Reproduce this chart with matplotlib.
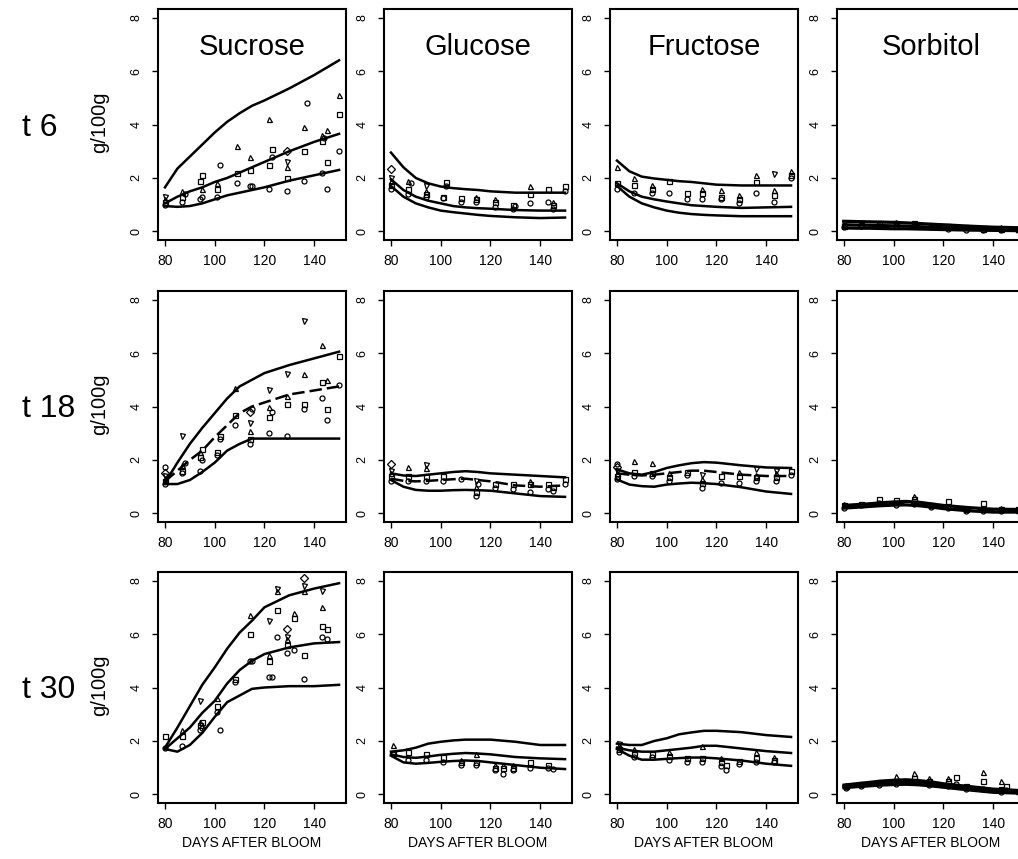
import matplotlib
matplotlib.use("Agg")
import matplotlib.pyplot as plt

plt.rcParams['font.family'] = ['Liberation Sans', 'DejaVu Sans']

sugars = ["Sucrose", "Glucose", "Fructose", "Sorbitol"]
temps = ["t 6", "t 18", "t 30"]
x_ticks = [80, 100, 120, 140]
y_ticks = [0, 2, 4, 6, 8]

curve_days = [80, 85, 90, 95, 100, 105, 110, 115, 120, 130, 140, 150]

# ---- t 6 ----
suc6_upper = [1.65, 2.35, 2.8, 3.25, 3.7, 4.1, 4.42, 4.7, 4.9, 5.35, 5.85, 6.4]
suc6_mid = [1.05, 1.3, 1.5, 1.65, 1.85, 2.0, 2.2, 2.4, 2.6, 3.0, 3.35, 3.65]
suc6_lower = [0.95, 0.92, 0.95, 1.05, 1.2, 1.35, 1.45, 1.55, 1.65, 1.9, 2.1, 2.3]
glu6_upper = [2.95, 2.4, 2.0, 1.8, 1.68, 1.62, 1.58, 1.55, 1.5, 1.45, 1.45, 1.45]
glu6_mid = [1.95, 1.55, 1.3, 1.15, 1.05, 0.95, 0.9, 0.87, 0.85, 0.8, 0.78, 0.78]
glu6_lower = [1.7, 1.3, 1.05, 0.9, 0.78, 0.72, 0.67, 0.62, 0.58, 0.53, 0.5, 0.52]
fru6_upper = [2.65, 2.25, 2.05, 1.98, 1.93, 1.88, 1.85, 1.8, 1.75, 1.72, 1.72, 1.72]
fru6_mid = [1.8, 1.5, 1.3, 1.2, 1.12, 1.05, 0.98, 0.95, 0.92, 0.88, 0.9, 0.92]
fru6_lower = [1.7, 1.3, 1.05, 0.9, 0.78, 0.7, 0.65, 0.62, 0.6, 0.57, 0.57, 0.57]
sor6_upper = [0.38, 0.37, 0.36, 0.35, 0.34, 0.32, 0.3, 0.27, 0.25, 0.2, 0.16, 0.14]
sor6_mid = [0.25, 0.24, 0.23, 0.22, 0.21, 0.2, 0.18, 0.16, 0.14, 0.11, 0.09, 0.08]
sor6_lower = [0.13, 0.12, 0.12, 0.11, 0.1, 0.1, 0.09, 0.08, 0.07, 0.05, 0.04, 0.03]

# ---- t 18 ----
suc18_upper = [1.15, 1.9, 2.6, 3.2, 3.75, 4.3, 4.75, 5.0, 5.25, 5.55, 5.8, 6.05]
suc18_mid = [1.2, 1.6, 2.0, 2.35, 2.85, 3.3, 3.75, 4.0, 4.15, 4.45, 4.6, 4.75]
suc18_lower = [1.1, 1.1, 1.25, 1.55, 1.9, 2.35, 2.6, 2.8, 2.8, 2.8, 2.8, 2.8]
glu18_upper = [1.5, 1.42, 1.4, 1.45, 1.5, 1.55, 1.58, 1.55, 1.5, 1.45, 1.4, 1.35]
glu18_mid = [1.3, 1.22, 1.2, 1.22, 1.25, 1.28, 1.3, 1.25, 1.2, 1.05, 1.0, 1.05]
glu18_lower = [1.25, 1.0, 0.88, 0.85, 0.85, 0.87, 0.88, 0.87, 0.85, 0.75, 0.65, 0.62]
fru18_upper = [1.65, 1.5, 1.45, 1.55, 1.7, 1.8, 1.88, 1.92, 1.9, 1.8, 1.72, 1.7]
fru18_mid = [1.5, 1.45, 1.42, 1.45, 1.5, 1.55, 1.6, 1.6, 1.55, 1.45, 1.4, 1.4]
fru18_lower = [1.27, 1.08, 1.02, 1.0, 1.08, 1.12, 1.15, 1.13, 1.1, 0.98, 0.82, 0.73]
sor18_upper = [0.3, 0.33, 0.36, 0.4, 0.43, 0.45, 0.42, 0.36, 0.3, 0.22, 0.16, 0.15]
sor18_mid = [0.25, 0.28, 0.31, 0.34, 0.37, 0.38, 0.35, 0.3, 0.24, 0.16, 0.1, 0.1]
sor18_lower = [0.2, 0.23, 0.26, 0.29, 0.31, 0.32, 0.29, 0.24, 0.18, 0.1, 0.05, 0.05]

# ---- t 30 ----
suc30_upper = [1.75, 2.5, 3.3, 4.1, 4.75, 5.45, 6.05, 6.5, 7.0, 7.45, 7.7, 7.9]
suc30_mid = [1.7, 2.1, 2.5, 3.05, 3.5, 4.15, 4.65, 5.0, 5.25, 5.5, 5.65, 5.7]
suc30_lower = [1.7, 1.6, 1.85, 2.3, 2.9, 3.45, 3.7, 3.95, 4.0, 4.05, 4.05, 4.1]
glu30_upper = [1.6, 1.65, 1.75, 1.9, 1.97, 2.02, 2.05, 2.05, 2.05, 1.97, 1.85, 1.85]
glu30_mid = [1.5, 1.4, 1.37, 1.42, 1.48, 1.52, 1.55, 1.53, 1.5, 1.4, 1.35, 1.32]
glu30_lower = [1.45, 1.2, 1.15, 1.18, 1.22, 1.25, 1.27, 1.25, 1.2, 1.1, 1.0, 0.95]
fru30_upper = [1.9, 1.85, 1.85, 2.0, 2.1, 2.25, 2.32, 2.38, 2.38, 2.33, 2.22, 2.15]
fru30_mid = [1.75, 1.65, 1.6, 1.6, 1.65, 1.7, 1.75, 1.82, 1.82, 1.72, 1.62, 1.55]
fru30_lower = [1.7, 1.45, 1.3, 1.3, 1.33, 1.36, 1.38, 1.38, 1.35, 1.27, 1.15, 1.07]
sor30_upper = [0.35, 0.4, 0.45, 0.5, 0.53, 0.55, 0.52, 0.47, 0.4, 0.3, 0.2, 0.15]
sor30_mid = [0.3, 0.35, 0.39, 0.43, 0.45, 0.46, 0.44, 0.4, 0.35, 0.25, 0.15, 0.1]
sor30_lower = [0.25, 0.29, 0.32, 0.35, 0.37, 0.38, 0.36, 0.32, 0.27, 0.17, 0.08, 0.05]

# measured samples, day -> values (g/100g)
suc6_pts = {80: [1.0, 1.1, 1.2, 1.3], 87: [1.1, 1.3, 1.5], 88: [1.4], 94: [1.2, 1.9],
            95: [1.3, 2.1, 1.6], 101: [1.3, 1.6, 1.8], 102: [2.5], 109: [1.8, 2.2, 3.2],
            114: [1.7, 2.3, 2.8], 115: [1.7], 122: [1.6, 2.5, 4.2], 123: [2.8, 3.1],
            129: [1.5, 2.0, 2.4, 2.6, 3.0], 136: [1.9, 3.0, 3.9], 137: [4.8],
            143: [2.2, 3.4, 3.6], 144: [3.5], 145: [1.6, 2.6, 3.8], 150: [3.0, 4.4, 5.1]}
glu6_pts = {80: [1.6, 1.75, 1.9, 2.0, 2.35], 87: [1.4, 1.6, 1.9], 88: [1.8],
            94: [1.3, 1.4, 1.5, 1.7], 101: [1.25, 1.3], 102: [1.7, 1.85], 108: [1.1, 1.25],
            114: [1.1, 1.2, 1.3], 122: [0.9, 1.1, 1.2], 129: [0.85, 1.0], 130: [0.95],
            136: [1.05, 1.4, 1.7], 143: [1.1, 1.6], 145: [0.85, 1.0, 1.1], 150: [1.5, 1.7]}
fru6_pts = {80: [1.6, 1.8, 2.4], 87: [1.45, 1.75, 2.0], 94: [1.45, 1.6, 1.75],
            101: [1.45, 1.9], 108: [1.2, 1.45], 114: [1.2, 1.45, 1.6], 122: [1.2, 1.3, 1.55],
            129: [1.05, 1.2, 1.35], 136: [1.45, 1.85, 2.1], 143: [1.1, 1.35, 1.55, 2.15],
            150: [2.0, 2.1, 2.25]}
sor6_pts = {80: [0.15, 0.2, 0.25, 0.3], 87: [0.2, 0.25], 94: [0.2, 0.3],
            101: [0.2, 0.3, 0.35], 108: [0.2, 0.3], 115: [0.15, 0.25], 122: [0.1, 0.2],
            129: [0.05, 0.15], 136: [0.05, 0.1], 143: [0.05, 0.1, 0.15], 150: [0.05, 0.1]}

suc18_pts = {80: [1.1, 1.2, 1.3, 1.4, 1.5, 1.75], 87: [1.5, 1.6, 1.8, 2.9], 88: [1.9],
             94: [1.6, 2.1, 2.3], 95: [2.0, 2.4], 101: [2.2, 2.3], 102: [2.8, 2.9],
             108: [3.3, 3.7, 4.7], 114: [2.6, 2.8, 3.1, 3.4, 3.8], 115: [3.9],
             122: [3.0, 3.6, 4.0, 4.6], 123: [3.8], 129: [2.9, 4.1, 4.4, 5.2],
             136: [3.9, 4.1, 5.2, 7.2], 143: [4.3, 4.9, 6.3], 145: [3.5, 3.9, 5.0],
             150: [4.8, 5.9]}
glu18_pts = {80: [1.2, 1.4, 1.5, 1.6, 1.85], 87: [1.2, 1.4, 1.75], 94: [1.2, 1.4, 1.7, 1.8],
             101: [1.2, 1.4], 108: [1.3], 114: [0.65, 0.8, 1.0, 1.2], 115: [1.1],
             122: [0.95, 1.1], 129: [0.9, 1.1], 136: [0.8, 1.1, 1.2], 143: [0.9, 1.1],
             145: [0.85, 1.0], 150: [1.1, 1.3]}
fru18_pts = {80: [1.3, 1.4, 1.5, 1.6, 1.75, 1.85], 87: [1.4, 1.55, 1.95], 94: [1.4, 1.5, 1.9],
             101: [1.2, 1.35, 1.5], 108: [1.45, 1.55], 114: [0.95, 1.15, 1.3, 1.45],
             122: [1.15, 1.4], 129: [1.15, 1.4, 1.55], 136: [1.2, 1.35, 1.45, 1.65],
             144: [1.2, 1.35, 1.5, 1.6], 150: [1.45, 1.6]}
sor18_pts = {80: [0.2, 0.3, 0.35], 87: [0.3, 0.35], 94: [0.4, 0.55], 101: [0.3, 0.5],
             108: [0.35, 0.55, 0.65], 115: [0.25, 0.3], 122: [0.2, 0.45], 129: [0.1, 0.15],
             136: [0.1, 0.4], 143: [0.1, 0.15, 0.2], 150: [0.1, 0.15]}

suc30_pts = {80: [1.75, 2.2], 87: [1.8, 2.2, 2.4], 94: [2.4, 2.6, 2.7, 3.5], 95: [2.5, 2.7],
             101: [3.1, 3.3, 3.6], 102: [2.4], 108: [4.2, 4.3], 114: [5.0, 6.0, 6.7],
             115: [5.0], 122: [4.4, 5.0, 5.2, 6.5], 123: [4.4], 125: [5.9, 6.9, 7.6, 7.7],
             129: [5.3, 5.6, 5.8, 5.9, 6.2], 132: [5.4, 6.6, 6.8],
             136: [4.3, 5.2, 7.6, 7.8, 8.1], 143: [5.9, 6.3, 7.0, 7.6], 145: [5.8, 6.2]}
glu30_pts = {81: [1.5, 1.55, 1.85], 87: [1.3, 1.6], 94: [1.3, 1.5], 101: [1.2, 1.4],
             108: [1.1, 1.2, 1.3], 114: [1.1, 1.2, 1.5], 122: [0.9, 1.0, 1.1],
             125: [0.75, 1.0, 1.1], 129: [0.9, 1.0, 1.1], 136: [1.0, 1.2], 143: [1.0, 1.1],
             145: [0.95]}
fru30_pts = {81: [1.6, 1.7, 1.85, 1.9], 87: [1.4, 1.5, 1.7], 94: [1.4, 1.5],
             101: [1.3, 1.45, 1.6], 108: [1.2, 1.35], 114: [1.2, 1.35, 1.8],
             122: [1.05, 1.2, 1.35], 124: [0.9, 1.1], 129: [1.15, 1.25],
             136: [1.2, 1.35, 1.6], 143: [1.2, 1.3, 1.4]}
sor30_pts = {81: [0.25, 0.3, 0.35], 87: [0.3, 0.4], 94: [0.35, 0.45], 101: [0.4, 0.5, 0.7],
             108: [0.45, 0.6, 0.8], 114: [0.35, 0.5, 0.6], 122: [0.3, 0.5, 0.6],
             125: [0.4, 0.65], 129: [0.2, 0.3], 136: [0.2, 0.5, 0.85], 143: [0.1, 0.2, 0.5],
             145: [0.15, 0.3], 150: [0.1]}

panels = [
    [(suc6_upper, suc6_mid, suc6_lower, suc6_pts),
     (glu6_upper, glu6_mid, glu6_lower, glu6_pts),
     (fru6_upper, fru6_mid, fru6_lower, fru6_pts),
     (sor6_upper, sor6_mid, sor6_lower, sor6_pts)],
    [(suc18_upper, suc18_mid, suc18_lower, suc18_pts),
     (glu18_upper, glu18_mid, glu18_lower, glu18_pts),
     (fru18_upper, fru18_mid, fru18_lower, fru18_pts),
     (sor18_upper, sor18_mid, sor18_lower, sor18_pts)],
    [(suc30_upper, suc30_mid, suc30_lower, suc30_pts),
     (glu30_upper, glu30_mid, glu30_lower, glu30_pts),
     (fru30_upper, fru30_mid, fru30_lower, fru30_pts),
     (sor30_upper, sor30_mid, sor30_lower, sor30_pts)],
]

markers = ['o', 's', '^', 'v', 'D', 'o']

W, H = 1018, 859
fig = plt.figure(figsize=(W / 100, H / 100), dpi=100)

col_left = [158, 384, 610, 837]
row_top = [9, 291, 572]
ax_w, ax_h = 188, 231

for r in range(3):
    for c in range(4):
        left = col_left[c]
        top = row_top[r]
        ax = fig.add_axes([left / W, 1 - (top + ax_h) / H, ax_w / W, ax_h / H])
        upper, mid, lower, pts = panels[r][c]

        # middle fit is dashed for the t 18 row
        mid_style = (0, (5, 2)) if r == 1 else '-'
        band_lw = 2.3 if c == 3 else 1.8
        ax.plot(curve_days, upper, color='black', lw=band_lw)
        ax.plot(curve_days, mid, color='black', lw=band_lw, linestyle=mid_style)
        ax.plot(curve_days, lower, color='black', lw=band_lw)

        for day, vals in pts.items():
            for i, v in enumerate(vals):
                ax.plot(day, v, linestyle='none', marker=markers[i % len(markers)],
                        ms=3.6, mfc='none', mec='black', mew=0.9)

        ax.set_xlim(77.2, 152.8)
        ax.set_ylim(-0.32, 8.32)
        ax.set_xticks(x_ticks)
        ax.set_yticks(y_ticks)
        ax.tick_params(axis='both', direction='out', length=4, width=1.0, color='black')
        ax.tick_params(axis='x', labelsize=10, pad=6)
        ax.tick_params(axis='y', labelsize=9, pad=7)
        for lab in ax.get_yticklabels():
            lab.set_rotation(90)
            lab.set_va('center')
        for sp in ax.spines.values():
            sp.set_linewidth(1.5)

        if r == 0:
            ax.text(0.5, 0.835, sugars[c], transform=ax.transAxes, ha='center',
                    va='center', fontsize=21)
        if r == 2:
            ax.set_xlabel("DAYS AFTER BLOOM", fontsize=10, labelpad=4)

    mid_y = 1 - (row_top[r] + ax_h / 2 + 3) / H
    fig.text(22 / W, mid_y, temps[r], ha='left', va='center', fontsize=23)
    fig.text(100 / W, 1 - (row_top[r] + 113) / H, "g/100g", rotation=90,
             ha='center', va='center', fontsize=14.5)

fig.savefig("out.png", dpi=100)
